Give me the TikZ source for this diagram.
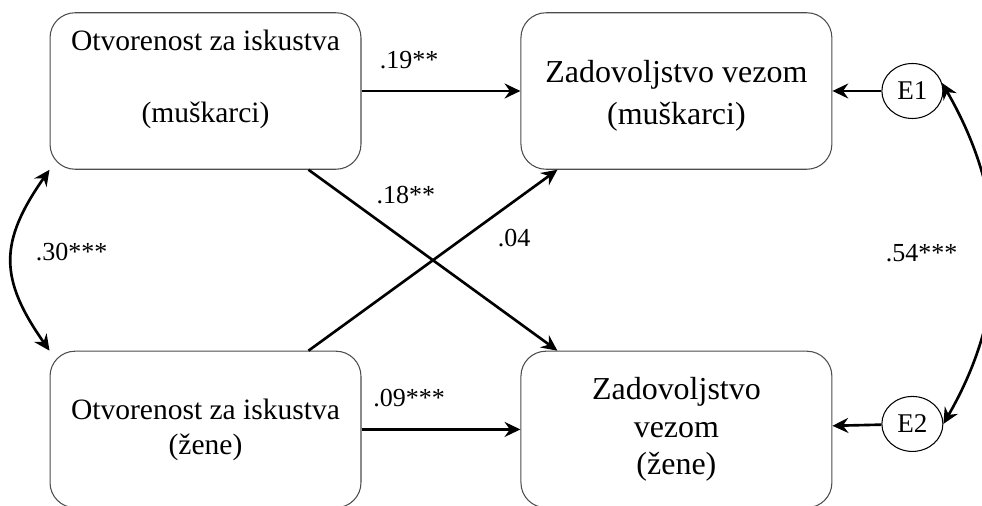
\documentclass[tikz,border=0pt]{standalone}
\usepackage{fontspec}
\setmainfont{Liberation Serif}
\usetikzlibrary{arrows.meta,shapes.geometric}

\begin{document}
\begin{tikzpicture}[->,>={Stealth[length=9pt,width=8.5pt,inset=3pt]},auto,
                    x=0.02cm,y=0.02cm,line width=1.5pt,
                    var/.style={rectangle,draw=black!70,line width=0.6pt,rounded corners=0.5cm,
                                minimum width=6.22cm,minimum height=3.13cm,inner sep=0pt,align=center},
                    err/.style={ellipse,draw,line width=0.6pt,minimum width=1.22cm,minimum height=1.1cm,
                                inner sep=0pt,font=\fontsize{15.4}{18}\selectfont},
                    coef/.style={inner sep=0pt,font=\fontsize{14.8}{17}\selectfont}]
  \useasboundingbox (0,0) rectangle (982,-506);

  \node[var,font=\fontsize{16.8}{19.9}\selectfont] (OM) at (205.5,-91)
        {Otvorenost za iskustva\\[0.74cm](muškarci)\\[-0.1cm]\mbox{}};
  \node[var,font=\fontsize{18.2}{21.3}\selectfont] (ZM) [node distance=9.42cm,right of=OM]
        {\mbox{}\\[-0.11cm]Zadovoljstvo vezom\\[0.09cm](muškarci)};
  \node[var,font=\fontsize{16.8}{19.9}\selectfont] (OZ) [node distance=6.77cm,below of=OM]
        {Otvorenost za iskustva\\(žene)};
  \node[var,font=\fontsize{18.2}{21.3}\selectfont] (ZZ) [node distance=9.42cm,right of=OZ]
        {Zadovoljstvo\\vezom\\(žene)};
  \node[err] (E1) [node distance=4.72cm,right of=ZM] {E1};
  \node[err] (E2) [node distance=6.66cm,below of=E1] {E2};

  \path (OM) edge node[coef,pos=0.3,above=0.42cm] {.19**} (ZM);
  \path (OZ) edge node[coef,pos=0.3,above=0.42cm] {.09***} (ZZ);
  \path ([xshift=-1.06cm]OM.south east) edge node[coef,pos=0.238,inner sep=0.15cm] {.18**}
        ([xshift=0.74cm]ZZ.north west);
  \path ([xshift=-1.06cm]OZ.north east) edge node[coef,pos=0.724,inner sep=0.157cm,swap] {.04}
        ([xshift=0.74cm]ZM.south west);
  \path (E1) edge (ZM);
  \path (E2) edge (ZZ);

  % correlations
  \path (OM.south west) edge[<->,out=235,in=125,looseness=1.25]
        node[coef,right=0.46cm,yshift=0.16cm] {.30***} (OZ.north west);
  \path (E1.15) edge[<->,out=-60,in=60]
        node[coef,left=0.68cm] {.54***} (E2.0);
\end{tikzpicture}
\end{document}
